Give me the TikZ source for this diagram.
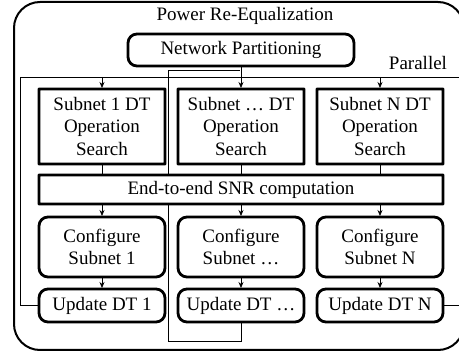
\documentclass[tikz,border=0pt]{standalone}
\usepackage{fontspec}
\setmainfont{Liberation Serif}
\usetikzlibrary{arrows.meta,positioning,backgrounds}

\begin{document}
\begin{tikzpicture}[x=1pt,y=-1pt,>={Stealth[length=6pt,width=5pt]},shorten >=1pt,
                    font=\fontsize{19}{22.5}\selectfont,node distance=13pt]
  \tikzstyle{block}=[draw=black,line width=2.8pt,fill=white,align=center,
                     minimum width=126pt,inner sep=0pt,outer sep=0pt,rounded corners=0.4pt]
  \tikzstyle{soft}=[block,rounded corners=9pt]
  \tikzstyle{wire}=[line width=0.7pt,draw=black]

  \useasboundingbox (0,0) rectangle (459,353);

  \node (title) at (245,16) {Power Re-Equalization};
  \node[soft,minimum width=226pt,minimum height=32pt] (part) at (241,50) {Network Partitioning};
  \node (par) at (418,63) {Parallel};

  % per-subnet search
  \node[block,minimum height=75pt] (search2) [below=23pt of part] {Subnet … DT\\Operation\\Search};
  \node[block,minimum height=75pt] (search1) [left=of search2]    {Subnet 1 DT\\Operation\\Search};
  \node[block,minimum height=75pt] (search3) [right=of search2]   {Subnet N DT\\Operation\\Search};

  \node[block,minimum width=404pt,minimum height=29pt] (snr) [below=11pt of search2] {End-to-end SNR computation};

  \node[soft,minimum height=60pt] (conf2) [below=of snr]        {Configure\\Subnet …};
  \node[soft,minimum height=60pt] (conf1) [left=of conf2]       {Configure\\Subnet 1};
  \node[soft,minimum height=60pt] (conf3) [right=of conf2]      {Configure\\Subnet N};

  \node[soft,minimum height=33pt] (upd2) [below=12pt of conf2]  {Update DT …};
  \node[soft,minimum height=33pt] (upd1) [left=of upd2]         {Update DT 1};
  \node[soft,minimum height=33pt] (upd3) [right=of upd2]        {Update DT N};

  \coordinate (busL) at (20,77);
  \coordinate (busR) at (461,77);
  \coordinate (mbot) at (168,341);
  \coordinate (mtop) at (168,70);

  \begin{scope}[on background layer]
    \clip (0,0) rectangle (459,353);
    \draw[line width=2pt,rounded corners=26pt] (14,2) rectangle (464,350);

    \draw[wire,->] (part) -- (search2);
    \draw[wire] (upd1.west) -| (busL) -- (busR) |- (upd3.east);
    \draw[wire,->] (busL -| search1.north) -- (search1);
    \draw[wire,->] (busL -| search3.north) -- (search3);
    \draw[wire] (upd2.south) |- (mbot) -- (mtop) -- (mtop -| part.south);

    \foreach \i in {1,2,3} {
      \draw[wire] (search\i) -- (search\i.south |- snr.north);
      \draw[wire,->] (snr.south -| conf\i.north) -- (conf\i);
      \draw[wire,->] (conf\i) -- (upd\i);
    }
  \end{scope}
\end{tikzpicture}
\end{document}
